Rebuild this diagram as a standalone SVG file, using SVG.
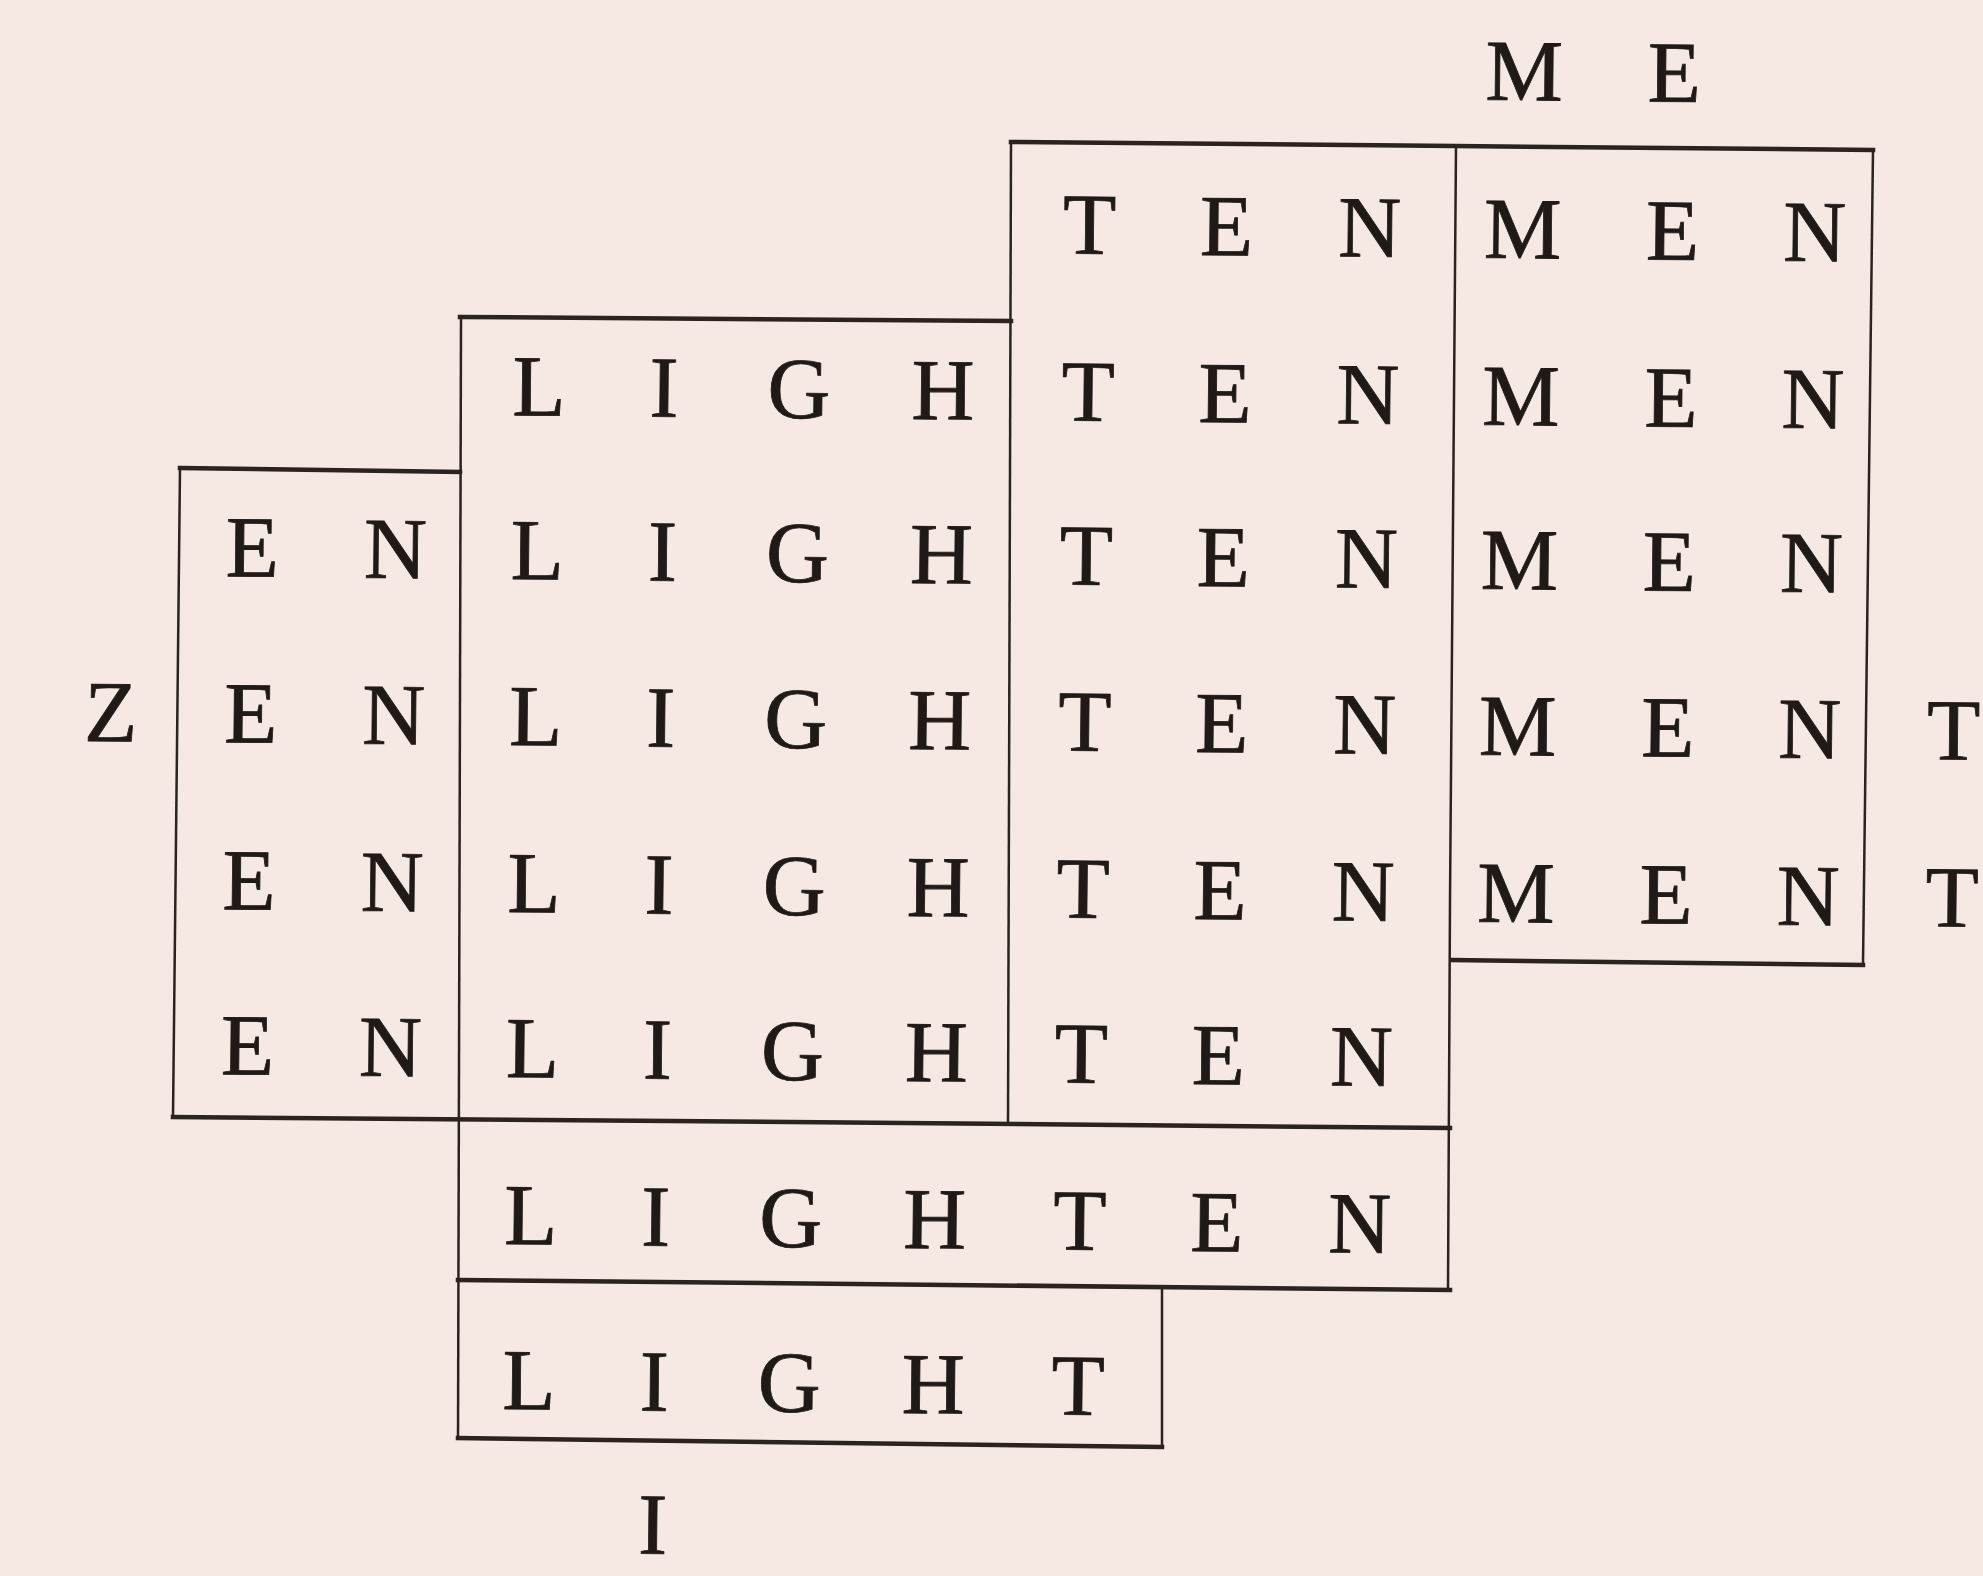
<svg xmlns="http://www.w3.org/2000/svg" width="1983" height="1576" viewBox="0 0 1983 1576">
<style>
.bg{fill:#f6e8e2}
.t{font-family:"Liberation Serif","Times New Roman",serif;font-size:87px;fill:#1f1a18;stroke:#1f1a18;stroke-width:0.8;text-anchor:middle}
.h{stroke:#2a2320;stroke-width:4.5;fill:none;stroke-linecap:square;stroke-linejoin:miter}
.v{stroke:#2a2320;stroke-width:2.5;fill:none}
</style>
<rect class="bg" x="0" y="0" width="1983" height="1576"/>
<g id="connectors">
<polyline class="h" points="1011,142 1456,146 1873,150"/>
<polyline class="h" points="460,317 1011,321"/>
<polyline class="h" points="180,468 460,472"/>
<polyline class="h" points="173,1117 670,1121 1450,1128"/>
<polyline class="h" points="458,1280 1450,1290"/>
<polyline class="h" points="458,1438 1162,1447"/>
<polyline class="h" points="1452,960 1863,965"/>
<polyline class="v" points="1011,142 1008,1124"/>
<polyline class="v" points="1456,146 1450,900 1448,1290"/>
<polyline class="v" points="1873,150 1863,965"/>
<polyline class="v" points="461,317 458,1440"/>
<polyline class="v" points="180,468 173,1117"/>
<polyline class="v" points="1162,1286 1162,1447"/>
</g>
<g id="letters" transform="rotate(0.57 1000 800)">
<g id="row0"><text class="t" x="1517 1667" y="95">ME</text></g>
<g id="row1"><text class="t" x="1084 1221 1364 1517 1667 1809" y="253">TENMEN</text></g>
<g id="row2"><text class="t" x="535 660 795 939 1084 1221 1364 1517 1667 1809" y="420">LIGHTENMEN</text></g>
<g id="row3"><text class="t" x="250 393 535 660 795 939 1084 1221 1364 1517 1667 1809" y="584">ENLIGHTENMEN</text></g>
<g id="row4"><text class="t" x="110 250 393 535 660 795 939 1084 1221 1364 1517 1667 1809 1953" y="750">ZENLIGHTENMENT</text></g>
<g id="row5"><text class="t" x="250 393 535 660 795 939 1084 1221 1364 1517 1667 1809 1953" y="917">ENLIGHTENMENT</text></g>
<g id="row6"><text class="t" x="250 393 535 660 795 939 1084 1221 1364" y="1082">ENLIGHTEN</text></g>
<g id="row7"><text class="t" x="535 660 795 939 1084 1221 1364" y="1249">LIGHTEN</text></g>
<g id="row8"><text class="t" x="535 660 795 939 1084" y="1414">LIGHT</text></g>
<g id="row9"><text class="t" x="660" y="1557">I</text></g>
</g>
</svg>
